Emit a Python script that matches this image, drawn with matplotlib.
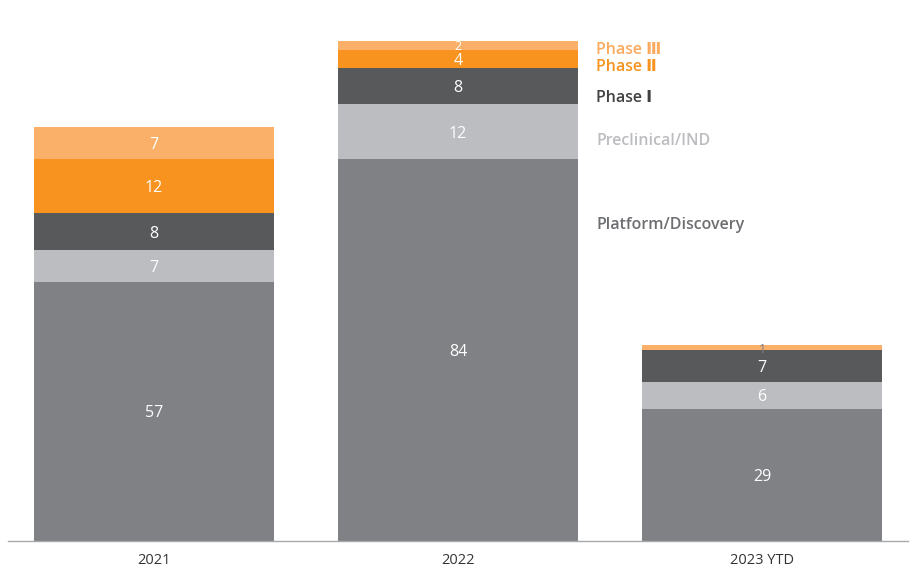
import matplotlib.pyplot as plt
import numpy as np

plt.rcParams['font.family'] = ['Open Sans', 'DejaVu Sans']

years = ['2021', '2022', '2023 YTD']
platform = [57, 84, 29]
preclinical = [7, 12, 6]
phase1 = [8, 8, 7]
phase2 = [12, 4, 0]
phase3 = [7, 2, 1]

series = [platform, preclinical, phase1, phase2, phase3]
names = ['Platform/Discovery', 'Preclinical/IND', 'Phase Ⅰ', 'Phase Ⅱ', 'Phase Ⅲ']
colors = ['#808184', '#bcbdc0', '#58595b', '#f7931e', '#fbb06a']
name_colors = ['#6d6e71', '#bcbdc0', '#414042', '#f7931e', '#fbaa5e']
name_y = [69.4, 88, 97.4, 104.1, 108.0]

fig = plt.figure(figsize=(9.15, 5.72), dpi=100)
ax = fig.add_axes([8 / 915, 31 / 572, 900 / 915, 541 / 572])

x = np.arange(len(years))
bottom = np.zeros(len(years))
for vals, col in zip(series, colors):
    vals = np.array(vals, dtype=float)
    ax.bar(x, vals, 0.79, bottom=bottom, color=col, linewidth=0)
    for xi, b, v in zip(x, bottom, vals):
        if v > 0:
            tc = '#808184' if v < 2 else 'white'
            fs = 9 if v < 3 else 11.5
            ax.text(xi, b + v / 2, f'{int(v)}', ha='center', va='center_baseline',
                    color=tc, fontsize=fs)
    bottom += vals

for nm, nc, ny in zip(names, name_colors, name_y):
    ax.text(1.454, ny, nm, ha='left', va='center', color=nc,
            fontsize=11.5, fontweight='semibold')

ax.set_xlim(-0.48, 2.48)
ax.set_ylim(0, 541 / 4.55)
ax.set_xticks(x)
ax.set_xticklabels(years, fontsize=10.5, color='#333333')
ax.tick_params(axis='x', length=0, pad=9)
ax.set_yticks([])
for s in ['top', 'right', 'left']:
    ax.spines[s].set_visible(False)
ax.spines['bottom'].set_color('#a7a9ac')
ax.spines['bottom'].set_linewidth(1)

fig.savefig('out.png', dpi=100)
